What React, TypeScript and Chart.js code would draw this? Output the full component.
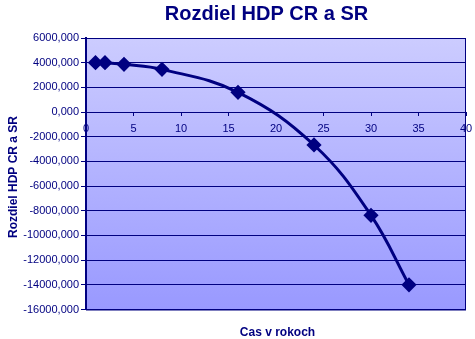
import React, { useEffect, useRef } from "react";
import { Chart, registerables } from "chart.js";

Chart.register(...registerables);

const years = [1, 2, 4, 8, 16, 24, 30, 34];
const differences = [4000, 4000, 3870, 3460, 1600, -2670, -8370, -14000];
const chartTitle = "Rozdiel HDP CR a SR";
const yTitle = "Rozdiel HDP CR a SR";
const xTitle = "Cas v rokoch";

const NAVY = "#000080";
const FONT = "'Liberation Sans', Arial, sans-serif";

export default function App() {
  const ref = useRef<HTMLCanvasElement | null>(null);

  useEffect(() => {
    document.body.style.margin = "0";
    const canvas = ref.current;
    if (!canvas) return;

    const decor = {
      id: "decor",
      beforeDraw(chart: any) {
        const { ctx, chartArea: a } = chart;
        ctx.save();
        ctx.fillStyle = "#ffffff";
        ctx.fillRect(0, 0, chart.width, chart.height);
        const g = ctx.createLinearGradient(0, a.top, 0, a.bottom);
        g.addColorStop(0, "#ccccff");
        g.addColorStop(1, "#9999ff");
        ctx.fillStyle = g;
        ctx.fillRect(a.left, a.top, a.right - a.left, a.bottom - a.top);
        ctx.restore();
      },
      afterDraw(chart: any) {
        const { ctx, chartArea: a } = chart;
        ctx.save();
        ctx.strokeStyle = NAVY;
        ctx.lineWidth = 1;
        ctx.strokeRect(a.left + 0.5, a.top + 0.5, a.right - a.left - 1, a.bottom - a.top);
        ctx.fillStyle = NAVY;
        ctx.textAlign = "center";
        ctx.textBaseline = "alphabetic";
        ctx.font = `bold 20px ${FONT}`;
        ctx.fillText(chartTitle, 266.5, 19.5);
        ctx.font = `bold 12px ${FONT}`;
        ctx.fillText(xTitle, 277.5, 336);
        ctx.translate(16.5, 177);
        ctx.rotate(-Math.PI / 2);
        ctx.fillText(yTitle, 0, 0);
        ctx.restore();
      },
    };

    const chart = new Chart(canvas, {
      type: "line",
      data: {
        datasets: [
          {
            data: years.map((x, i) => ({ x, y: differences[i] })),
            borderColor: NAVY,
            backgroundColor: NAVY,
            borderWidth: 3,
            tension: 0.4,
            pointStyle: "rectRot",
            pointRadius: 5.5,
            pointBackgroundColor: NAVY,
            pointBorderColor: NAVY,
            fill: false,
          },
        ],
      },
      options: {
        responsive: false,
        animation: false,
        layout: { padding: { left: 0, right: 9, top: 38, bottom: 29.5 } },
        plugins: {
          legend: { display: false },
          title: { display: false },
          tooltip: { enabled: false },
        },
        scales: {
          x: {
            type: "linear",
            position: { y: 0 } as any,
            min: 0,
            max: 40,
            ticks: {
              stepSize: 5,
              color: NAVY,
              font: { family: FONT, size: 11 },
              padding: 7,
              maxRotation: 0,
            },
            grid: {
              drawOnChartArea: false,
              drawTicks: true,
              tickLength: 3,
              color: NAVY,
            },
            border: { display: true, color: NAVY, width: 1 },
            afterFit(scale: any) {
              scale.height = 0;
              scale.paddingLeft = 0;
              scale.paddingRight = 0;
            },
          },
          y: {
            type: "linear",
            min: -16000,
            max: 6000,
            ticks: {
              stepSize: 2000,
              color: NAVY,
              font: { family: FONT, size: 11 },
              padding: 2,
              callback: (v: any) => Number(v).toFixed(3).replace(".", ","),
            },
            grid: {
              color: NAVY,
              lineWidth: 1,
              tickLength: 5,
              drawTicks: true,
            },
            border: { display: true, color: NAVY, width: 2 },
            afterFit(scale: any) {
              scale.width = 86;
            },
          },
        },
      },
      plugins: [decor],
    });

    return () => chart.destroy();
  }, []);

  return (
    <div style={{ width: 475, height: 339 }}>
      <canvas ref={ref} width={475} height={339} />
    </div>
  );
}
